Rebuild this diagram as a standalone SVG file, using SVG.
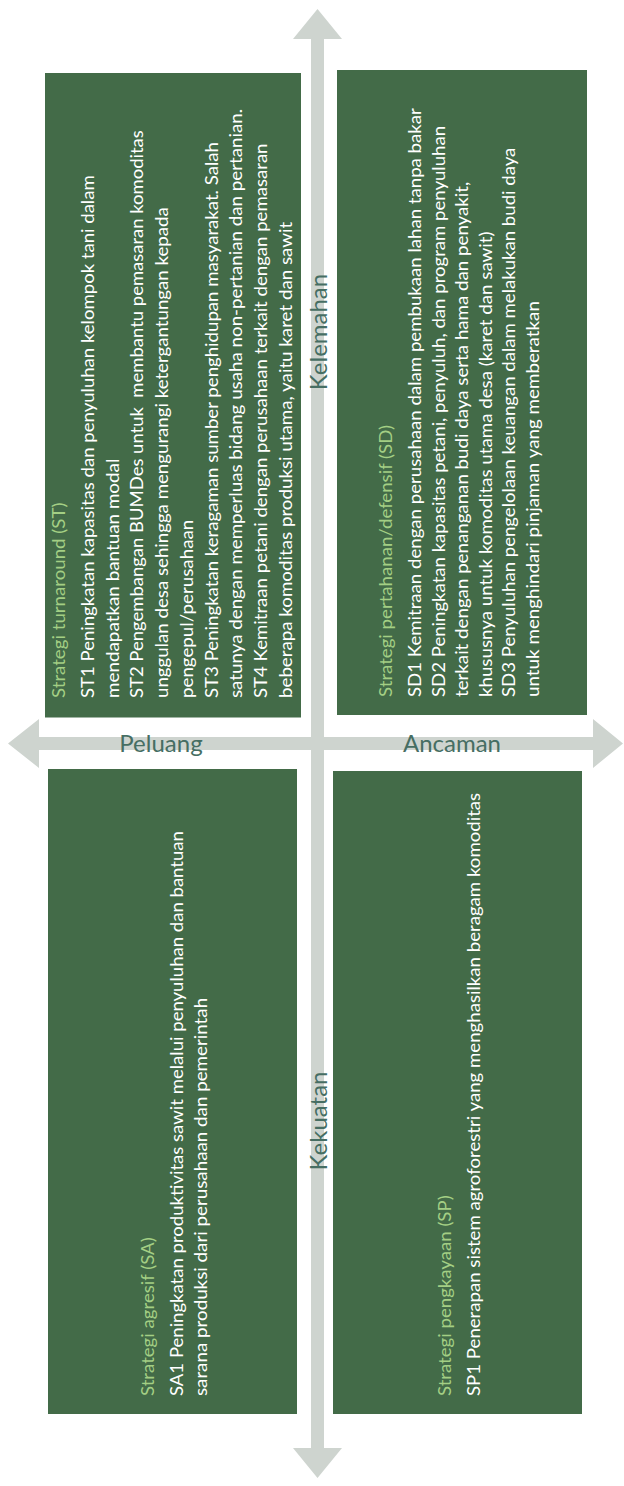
<svg xmlns="http://www.w3.org/2000/svg" width="624" height="1486" viewBox="0 0 624 1486">
<style>
.box{fill:#436B48;}
.t{font-family:"Lato","Liberation Sans",sans-serif;font-size:18px;fill:#FFFFFF;}
.h{fill:#A3CF84;}
.axis{fill:#CED4CF;}
.lab{font-family:"Lato","Liberation Sans",sans-serif;font-size:24px;fill:#466E63;}
</style>
<rect width="624" height="1486" fill="#FFFFFF"/>
<g id="connectors">
<polygon class="axis" points="317.5,9 342,39 324,39 324,1448 342,1448 317.5,1478 293,1448 311,1448 311,39 293,39"/>
<polygon class="axis" points="8,743.5 39,719 39,737 593,737 593,719 623,743.5 593,768 593,750 39,750 39,768"/>
</g>
<g id="ST">
<rect class="box" x="45" y="73" width="256" height="644.5"/>
<g transform="rotate(-90)">
<text class="t h" x="-698" y="65" textLength="195.5" lengthAdjust="spacingAndGlyphs">Strategi turnaround (ST)</text>
<text class="t" x="-698" y="94" textLength="522.7" lengthAdjust="spacingAndGlyphs">ST1 Peningkatan kapasitas dan penyuluhan kelompok tani dalam</text>
<text class="t" x="-698" y="118.7" textLength="239.4" lengthAdjust="spacingAndGlyphs">mendapatkan bantuan modal</text>
<text class="t" x="-698" y="143.4" textLength="567.8" lengthAdjust="spacingAndGlyphs" xml:space="preserve">ST2 Pengembangan BUMDes untuk  membantu pemasaran komoditas</text>
<text class="t" x="-698" y="168.1" textLength="490.8" lengthAdjust="spacingAndGlyphs">unggulan desa sehingga mengurangi ketergantungan kepada</text>
<text class="t" x="-698" y="192.8" textLength="178.2" lengthAdjust="spacingAndGlyphs">pengepul/perusahaan</text>
<text class="t" x="-698" y="217.5" textLength="556" lengthAdjust="spacingAndGlyphs">ST3 Peningkatan keragaman sumber penghidupan masyarakat. Salah</text>
<text class="t" x="-698" y="242.2" textLength="589.2" lengthAdjust="spacingAndGlyphs">satunya dengan memperluas bidang usaha non-pertanian dan pertanian.</text>
<text class="t" x="-698" y="266.9" textLength="554.5" lengthAdjust="spacingAndGlyphs">ST4 Kemitraan petani dengan perusahaan terkait dengan pemasaran</text>
<text class="t" x="-698" y="291.6" textLength="476.3" lengthAdjust="spacingAndGlyphs">beberapa komoditas produksi utama, yaitu karet dan sawit</text>
</g>
</g>
<g id="SD">
<rect class="box" x="337" y="70" width="250" height="645"/>
<g transform="rotate(-90)">
<text class="t h" x="-697" y="392" textLength="272" lengthAdjust="spacingAndGlyphs">Strategi pertahanan/defensif (SD)</text>
<text class="t" x="-697" y="421" textLength="588.8" lengthAdjust="spacingAndGlyphs">SD1 Kemitraan dengan perusahaan dalam pembukaan lahan tanpa bakar</text>
<text class="t" x="-697" y="444.5" textLength="571.1" lengthAdjust="spacingAndGlyphs">SD2 Peningkatan kapasitas petani, penyuluh, dan program penyuluhan</text>
<text class="t" x="-697" y="468" textLength="515.3" lengthAdjust="spacingAndGlyphs">terkait dengan penanganan budi daya serta hama dan penyakit,</text>
<text class="t" x="-697" y="491.5" textLength="465.5" lengthAdjust="spacingAndGlyphs">khususnya untuk komoditas utama desa (karet dan sawit)</text>
<text class="t" x="-697" y="515" textLength="549.3" lengthAdjust="spacingAndGlyphs">SD3 Penyuluhan pengelolaan keuangan dalam melakukan budi daya</text>
<text class="t" x="-697" y="538.5" textLength="395.9" lengthAdjust="spacingAndGlyphs">untuk menghindari pinjaman yang memberatkan</text>
</g>
</g>
<g id="SA">
<rect class="box" x="48" y="769" width="249" height="645"/>
<g transform="rotate(-90)">
<text class="t h" x="-1396" y="153.5" textLength="158.7" lengthAdjust="spacingAndGlyphs">Strategi agresif (SA)</text>
<text class="t" x="-1396" y="183" textLength="564.9" lengthAdjust="spacingAndGlyphs">SA1 Peningkatan produktivitas sawit melalui penyuluhan dan bantuan</text>
<text class="t" x="-1396" y="206.5" textLength="398.1" lengthAdjust="spacingAndGlyphs">sarana produksi dari perusahaan dan pemerintah</text>
</g>
</g>
<g id="SP">
<rect class="box" x="333" y="771" width="249" height="643"/>
<g transform="rotate(-90)">
<text class="t h" x="-1396" y="451" textLength="200.6" lengthAdjust="spacingAndGlyphs">Strategi pengkayaan (SP)</text>
<text class="t" x="-1396" y="479.5" textLength="603.2" lengthAdjust="spacingAndGlyphs">SP1 Penerapan sistem agroforestri yang menghasilkan beragam komoditas</text>
</g>
</g>
<g id="Kelemahan">
<text class="lab" transform="translate(326.5,332) rotate(-90)" text-anchor="middle">Kelemahan</text>
</g>
<g id="Kekuatan">
<text class="lab" transform="translate(326.5,1121) rotate(-90)" text-anchor="middle">Kekuatan</text>
</g>
<g id="Peluang">
<text class="lab" x="161" y="751.5" text-anchor="middle">Peluang</text>
</g>
<g id="Ancaman">
<text class="lab" x="452" y="751.5" text-anchor="middle">Ancaman</text>
</g>
</svg>
